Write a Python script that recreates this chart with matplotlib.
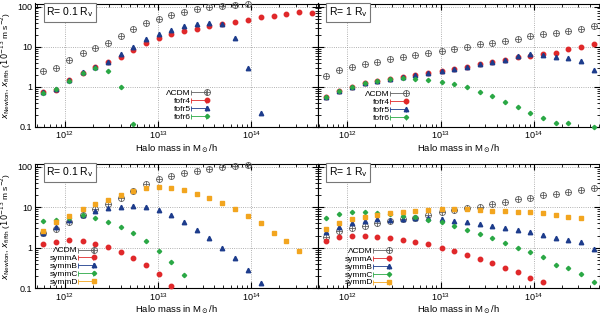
import numpy as np
import matplotlib.pyplot as plt
from matplotlib.lines import Line2D
from matplotlib.path import Path
from matplotlib.container import ErrorbarContainer
from matplotlib.legend_handler import HandlerErrorbar, HandlerTuple

plt.rcParams['font.family'] = ['Liberation Sans', 'DejaVu Sans']
plt.rcParams['mathtext.fontset'] = 'dejavusans'

# halo mass bins (log10 M / (Msun/h))
log_mass = [11.77, 11.91, 12.05, 12.19, 12.32, 12.46, 12.60, 12.73, 12.87, 13.01, 13.14,
            13.28, 13.42, 13.55, 13.69, 13.83, 13.96, 14.10, 14.24, 14.37, 14.51, 14.65]
mass = 10 ** np.array(log_mass)

# --- top-left: f(R) models, R = 0.1 R_v
lcdm_tl = [2.5, 2.9, 4.6, 7.1, 9.4, 12.6, 18.2, 27.6, 38.9, 50, 62, 74, 85, 96, 103, 110, 116]
fofr4_tl = [0.75, 0.83, 1.47, 2.24, 3.16, 4.2, 5.6, 8.3, 12.1, 16.1, 20.4, 24.7, 28.1, 33.3,
            36.9, 40.8, 47.3, 53.9, 58.7, 65.7, 75.1, 68.2]
fofr5_tl = [0.72, 0.86, 1.47, 2.27, 3.16, 4.2, 6.4, 10.0, 15.2, 20.4, 26.1, 32.9, 36.3, 40.0,
            36.9, 16.1, 2.9, 0.216]
fofr6_tl = [0.68, 0.86, 1.41, 2.24, 2.9, 2.47, 0.96, 0.117]

# --- top-right: f(R) models, R = 1 R_v
lcdm_tr = [1.89, 2.62, 3.16, 3.69, 4.22, 4.83, 5.46, 6.2, 6.8, 7.8, 8.6, 9.6, 11.5, 12.6,
           14.1, 15.8, 18.9, 20.8, 22.4, 25.1, 27.7, 32.9]
fofr4_tr = [0.56, 0.80, 1.0, 1.21, 1.39, 1.56, 1.71, 1.96, 2.24, 2.51, 2.82, 3.16, 3.61, 4.22,
            4.65, 5.42, 5.85, 6.57, 7.08, 8.6, 9.6, 11.5]
fofr5_tr = [0.56, 0.80, 1.0, 1.21, 1.39, 1.56, 1.71, 1.96, 2.24, 2.51, 2.82, 3.16, 3.61, 4.22,
            4.65, 5.85, 6.57, 6.2, 5.6, 5.3, 4.48, 2.62]
fofr6_tr = [0.56, 0.80, 1.0, 1.21, 1.39, 1.53, 1.65, 1.58, 1.47, 1.34, 1.17, 0.96, 0.75, 0.57,
            0.42, 0.305, 0.224, 0.168, 0.121, 0.121, np.nan, 0.100]

# --- bottom-left: symmetron models, R = 0.1 R_v
lcdm_bl = [2.27, 2.91, 4.42, 6.45, 9.1, 12.1, 16.6, 25.2, 36.9, 49, 60.3, 68.8, 80.1, 88.1,
           96.9, 106, 113]
symmA_bl = [1.26, 1.36, 1.56, 1.47, 1.26, 1.07, 0.80, 0.57, 0.376, 0.221, 0.116]
symmB_bl = [2.27, 3.32, 4.85, 6.45, 8.1, 9.4, 10.0, 10.8, 10.0, 8.6, 6.45, 4.42, 2.75, 1.78,
            1.0, 0.55, 0.283, 0.138]
symmC_bl = [4.58, 4.85, 5.33, 6.45, 5.33, 4.42, 3.32, 2.27, 1.47, 0.85, 0.45, 0.213]
symmD_bl = [2.6, 4.42, 6.1, 8.9, 11.8, 15.1, 20.1, 25.2, 29.4, 31.7, 29.4, 26.7, 21.3, 16.6,
            12.5, 9.1, 6.1, 4.0, 2.27, 1.47, 0.83]

# --- bottom-right: symmetron models, R = 1 R_v
lcdm_br = [1.88, 2.6, 3.14, 3.52, 4.0, 4.68, 5.14, 5.55, 6.45, 7.5, 8.6, 9.4, 10.4, 11.8,
           13.8, 15.7, 17.3, 20.1, 21.3, 23.4, 26.7, 30.5]
symmA_br = [1.47, 1.88, 1.99, 1.95, 1.81, 1.71, 1.56, 1.36, 1.22, 0.97, 0.83, 0.66, 0.53,
            0.41, 0.323, 0.248, 0.183, 0.14]
symmB_br = [2.5, 3.32, 4.0, 4.68, 5.05, 4.85, 5.05, 5.55, 5.33, 5.14, 4.68, 4.42, 3.87, 3.52,
            3.14, 2.75, 2.41, 2.07, 1.71, 1.56, 1.36, 0.93]
symmC_br = [5.55, 6.7, 7.8, 7.8, 7.36, 6.7, 6.1, 5.86, 4.85, 4.25, 3.52, 2.75, 2.15, 1.78,
            1.29, 1.0, 0.77, 0.60, 0.376, 0.323, 0.221, 0.14]
symmD_br = [2.91, 4.0, 5.14, 5.86, 6.45, 7.1, 7.5, 8.1, 8.6, 8.9, 8.9, 9.1, 8.6, 8.3, 8.1,
            7.8, 7.5, 7.1, 6.45, 5.86, 5.55]

GRAY = '#606060'
RED = '#e0282a'
BLUE = '#1d3c8c'
GREEN = '#2aa845'
ORANGE = '#f2a51f'

# open circle with a cross inside (gnuplot style)
circ_plus = Path.make_compound_path(
    Path.unit_circle(),
    Path([[-1, 0], [1, 0]], [Path.MOVETO, Path.LINETO]),
    Path([[0, -1], [0, 1]], [Path.MOVETO, Path.LINETO]),
)

style = {
    'lcdm': dict(marker=circ_plus, ms=4.3, color=GRAY, mfc='none', mew=0.6),
    'red': dict(marker='o', ms=3.2, color=RED),
    'blue': dict(marker='^', ms=3.2, color=BLUE),
    'green': dict(marker='D', ms=2.2, color=GREEN),
    'orange': dict(marker='s', ms=3.2, color=ORANGE),
}

fig = plt.figure(figsize=(6.0, 3.16), dpi=100)
L, R = 35 / 600, 1.0
W = (R - L) / 2
top_ax = (1 - 126.7 / 316, 123.2 / 316)
bot_ax = (1 - 288.3 / 316, 124.7 / 316)
axes = {
    'tl': fig.add_axes([L, top_ax[0], W, top_ax[1]]),
    'tr': fig.add_axes([L + W, top_ax[0], W, top_ax[1]]),
    'bl': fig.add_axes([L, bot_ax[0], W, bot_ax[1]]),
    'br': fig.add_axes([L + W, bot_ax[0], W, bot_ax[1]]),
}

panels = {
    'tl': ('R= 0.1 R$_\\mathrm{v}$', [('ΛCDM', lcdm_tl, 'lcdm'), ('fofr4', fofr4_tl, 'red'),
                                      ('fofr5', fofr5_tl, 'blue'), ('fofr6', fofr6_tl, 'green')]),
    'tr': ('R= 1 R$_\\mathrm{v}$', [('ΛCDM', lcdm_tr, 'lcdm'), ('fofr4', fofr4_tr, 'red'),
                                    ('fofr5', fofr5_tr, 'blue'), ('fofr6', fofr6_tr, 'green')]),
    'bl': ('R= 0.1 R$_\\mathrm{v}$', [('ΛCDM', lcdm_bl, 'lcdm'), ('symmA', symmA_bl, 'red'),
                                      ('symmB', symmB_bl, 'blue'), ('symmC', symmC_bl, 'green'),
                                      ('symmD', symmD_bl, 'orange')]),
    'br': ('R= 1 R$_\\mathrm{v}$', [('ΛCDM', lcdm_br, 'lcdm'), ('symmA', symmA_br, 'red'),
                                    ('symmB', symmB_br, 'blue'), ('symmC', symmC_br, 'green'),
                                    ('symmD', symmD_br, 'orange')]),
}
legend_anchor = {'tl': (0.625, 0.05), 'tr': (0.33, 0.04), 'bl': (0.225, 0.02), 'br': (0.27, 0.015)}

for key, ax in axes.items():
    title, series = panels[key]
    handles = []
    for label, vals, st in series:
        s = style[st]
        n = len(vals)
        ax.plot(mass[:n], vals, ls='none', clip_on=False, zorder=3, **s)
        # gnuplot-like legend sample |--o--|
        bar = ax.errorbar([np.nan], [np.nan], xerr=[1.0], fmt='none', ecolor=s['color'],
                          elinewidth=0.6, capsize=1.8, capthick=0.6)
        mk = Line2D([], [], ls='none', **s)
        handles.append((bar, mk))
    ax.set_xscale('log')
    ax.set_yscale('log')
    ax.set_xlim(10 ** 11.68, 10 ** 14.71)
    ax.set_ylim(0.1, 120)
    ax.set_yticks([0.1, 1, 10, 100])
    ax.grid(True, which='major', ls=':', color='#999999', lw=0.6)
    ax.tick_params(which='both', direction='in', top=True, right=True, labelsize=6.5, pad=2)
    ax.tick_params(which='major', length=4)
    ax.tick_params(which='minor', length=2)
    for sp in ax.spines.values():
        sp.set_linewidth(0.8)
    if key in ('tl', 'bl'):
        ax.set_yticklabels(['0.1', '1', '10', '100'])
    else:
        ax.set_yticklabels([])
    ax.set_xlabel(r'Halo mass in M$_\odot$/h', fontsize=6.8)
    ax.xaxis.set_label_coords(0.5, -0.125)
    ax.text(0.04, 0.985, title, transform=ax.transAxes, fontsize=7.5,
            va='top', ha='left',
            bbox=dict(boxstyle='square,pad=0.25', fc='white', ec='#777777', lw=0.8))
    ax.legend(handles=handles, labels=[lab for lab, _, _ in series],
              loc='lower right', bbox_to_anchor=legend_anchor[key],
              handler_map={ErrorbarContainer: HandlerErrorbar(xerr_size=0.95),
                           tuple: HandlerTuple(ndivide=None)},
              markerfirst=False, frameon=False, fontsize=6, handlelength=2.1,
              labelspacing=0.0, handletextpad=0.4, borderpad=0.0, borderaxespad=0.0)

ylabel = r'$\ddot{x}_{\rm Newton}$, $\ddot{x}_{\rm fifth}$ ($10^{-13}$ m s$^{-2}$)'
for k in ('tl', 'bl'):
    axes[k].set_ylabel(ylabel, fontsize=6)
    axes[k].yaxis.set_label_coords(-0.078, 0.5)

fig.savefig('out.png', dpi=100)
